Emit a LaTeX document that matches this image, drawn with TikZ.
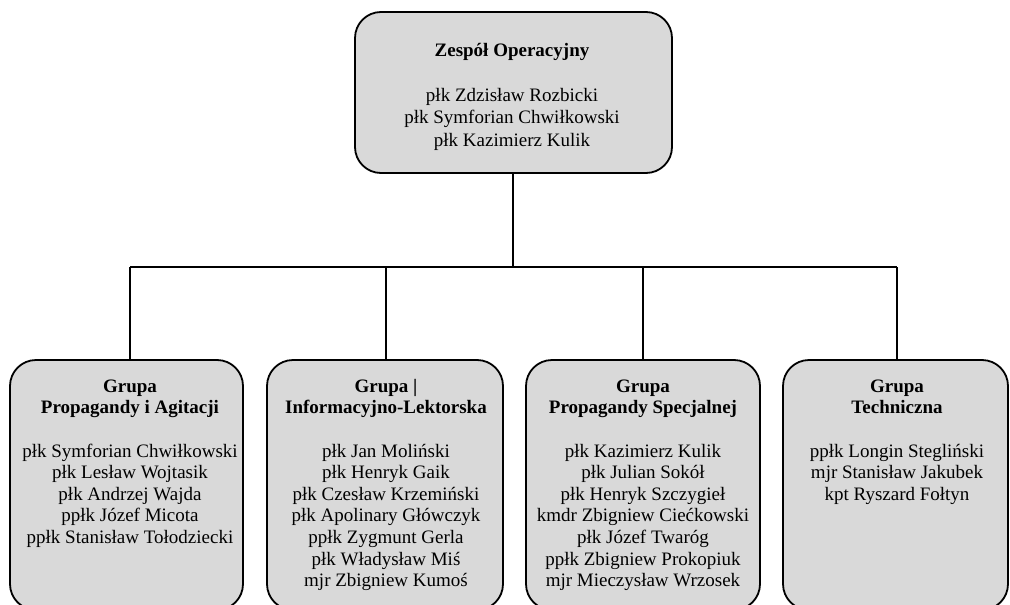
\documentclass[tikz,border=0pt]{standalone}
\usepackage{fontspec}
\setmainfont{Liberation Serif}
\definecolor{boxgray}{HTML}{D9D9D9}
\begin{document}
\begin{tikzpicture}[x=1pt,y=-1pt,
  boxshape/.style={draw=black, line width=1.8pt, fill=boxgray, rounded corners=26pt,
    anchor=north west, inner sep=0pt, outer sep=0pt},
  grptext/.style={font=\fontsize{19}{21.6}\selectfont, align=center, inner sep=0pt, anchor=north},
  toptext/.style={font=\fontsize{19}{22.5}\selectfont, align=center, inner sep=0pt, anchor=north},
  conn/.style={line width=1.6pt, draw=black}]
\useasboundingbox (0,0) rectangle (1010,605);
\clip (0,0) rectangle (1010,605);
% boxes
\node[boxshape, minimum width=317pt, minimum height=161pt] (top) at (355,12) {};
\node[boxshape, minimum width=233pt, minimum height=250pt] (b1) at (10,360) {};
\node[boxshape, minimum width=236pt, minimum height=250pt] (b2) at (267,360) {};
\node[boxshape, minimum width=234pt, minimum height=250pt] (b3) at (526,360) {};
\node[boxshape, minimum width=225pt, minimum height=250pt] (b4) at (783,360) {};
% junctions
\coordinate (hub) at (513,267);
\coordinate (j1) at (130,267);
\coordinate (j2) at (386,267);
\coordinate (j3) at (643,267);
\coordinate (j4) at (897,267);
\draw[conn] (hub |- top.south) -- (hub);
\draw[conn] (j1) -- (j4);
\draw[conn] (j1) -- (j1 |- b1.north);
\draw[conn] (j2) -- (j2 |- b2.north);
\draw[conn] (j3) -- (j3 |- b3.north);
\draw[conn] (j4) -- (j4 |- b4.north);
% texts
\node[toptext] (ttop) at (512,42) {\rule{0pt}{14pt}\textbf{Zespół Operacyjny}\\[22.5pt]
  płk Zdzisław Rozbicki\\płk Symforian Chwiłkowski\\płk Kazimierz Kulik};
\node[grptext] (t1) at (130,378) {\rule{0pt}{14pt}\textbf{Grupa}\\\textbf{Propagandy i Agitacji}\\[21.6pt]
  płk Symforian Chwiłkowski\\płk Lesław Wojtasik\\płk Andrzej Wajda\\ppłk Józef Micota\\ppłk Stanisław Tołodziecki};
\node[grptext] (t2) at (386,378) {\rule{0pt}{14pt}\textbf{Grupa |}\\\textbf{Informacyjno-Lektorska}\\[21.6pt]
  płk Jan Moliński\\płk Henryk Gaik\\płk Czesław Krzemiński\\płk Apolinary Główczyk\\ppłk Zygmunt Gerla\\płk Władysław Miś\\mjr Zbigniew Kumoś};
\node[grptext] (t3) at (643,378) {\rule{0pt}{14pt}\textbf{Grupa}\\\textbf{Propagandy Specjalnej}\\[21.6pt]
  płk Kazimierz Kulik\\płk Julian Sokół\\płk Henryk Szczygieł\\kmdr Zbigniew Ciećkowski\\płk Józef Twaróg\\ppłk Zbigniew Prokopiuk\\mjr Mieczysław Wrzosek};
\node[grptext] (t4) at (897,378) {\rule{0pt}{14pt}\textbf{Grupa}\\\textbf{Techniczna}\\[21.6pt]
  ppłk Longin Stegliński\\mjr Stanisław Jakubek\\kpt Ryszard Fołtyn};
\end{tikzpicture}
\end{document}
